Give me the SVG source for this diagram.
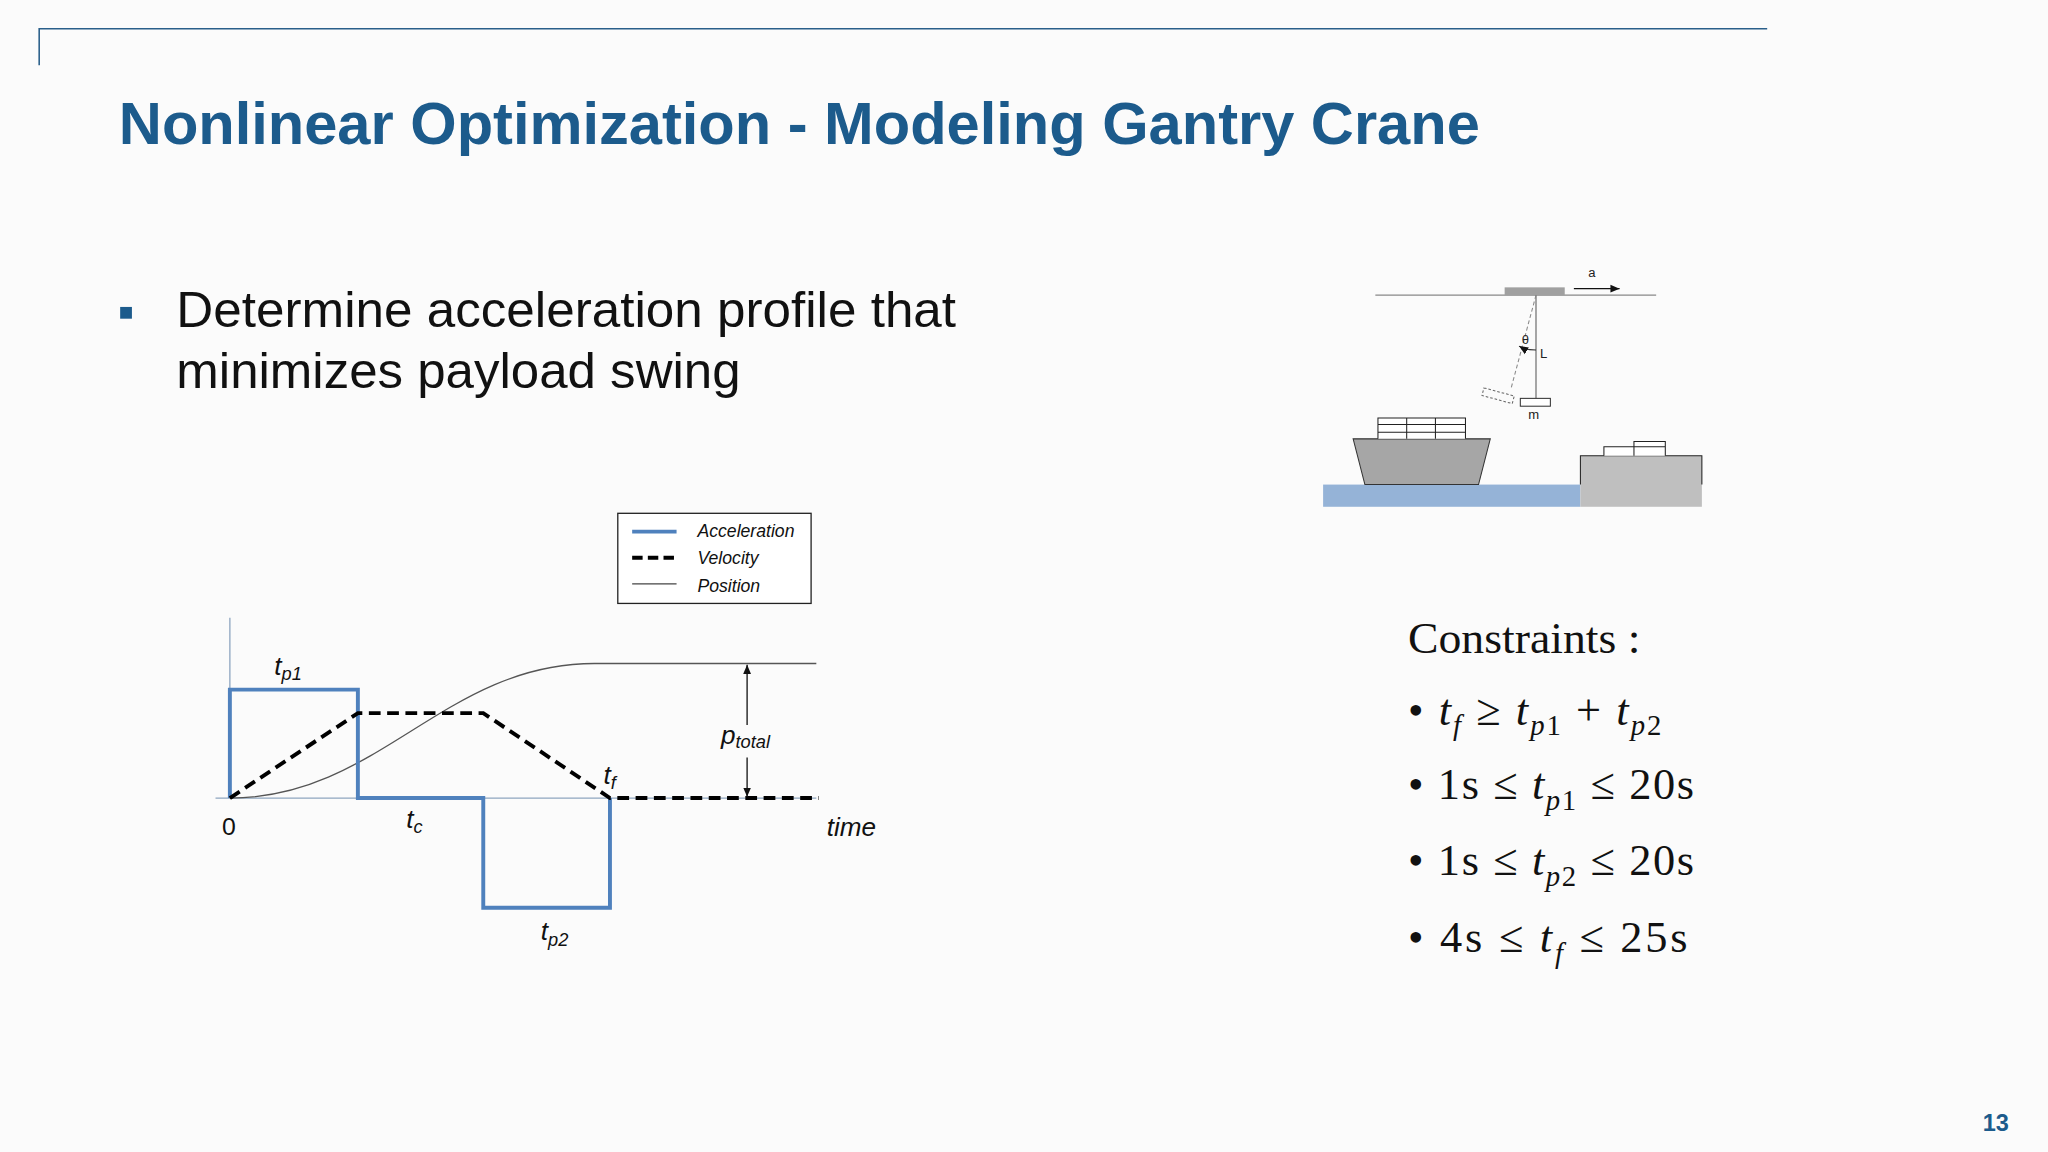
<svg xmlns="http://www.w3.org/2000/svg" width="2048" height="1152" viewBox="0 0 2048 1152">
<style>
.ti{font-family:"Liberation Sans",Arial,sans-serif;font-weight:bold;fill:#1c5b8c}
.bt{font-family:"Liberation Sans",Arial,sans-serif;fill:#111;font-size:38px}
.ch{font-family:"Liberation Sans",Arial,sans-serif;font-style:italic;fill:#111}
.cs{font-family:"Liberation Serif","Times New Roman",serif;fill:#111;font-size:34px}
.it{font-style:italic}
.cr{font-family:"Liberation Sans",Arial,sans-serif;font-size:10px;fill:#222}
</style>
<defs>
<marker id="ah" markerWidth="8" markerHeight="8" refX="7" refY="4" orient="auto" markerUnits="userSpaceOnUse"><path d="M0,1 L7,4 L0,7 Z" fill="#111"/></marker>
</defs>
<rect width="2048" height="1152" fill="#fbfbfb"/>
<g transform="scale(1.30612)">
<g id="header">
<path d="M30,50 V22 H1353" fill="none" stroke="#2a5f8a" stroke-width="1.2"/>
<text class="ti" x="91" y="110" font-size="45" textLength="1042" lengthAdjust="spacingAndGlyphs">Nonlinear Optimization - Modeling Gantry Crane</text>
<text class="ti" x="1518" y="866" font-size="18">13</text>
</g>
<g id="bullet">
<rect x="92" y="235" width="9" height="9" fill="#1c5b8c"/>
<text class="bt" x="135" y="250" textLength="597" lengthAdjust="spacingAndGlyphs">Determine acceleration profile that</text>
<text class="bt" x="135" y="297" textLength="432" lengthAdjust="spacingAndGlyphs">minimizes payload swing</text>
</g>
<g id="chart">
<path d="M176,473 V611 M165,611 H625" stroke="#8fa6c0" stroke-width="1" fill="none"/>
<path d="M176,611 C290,611 340,508 455,508 H625" stroke="#555" stroke-width="1" fill="none"/>
<path d="M176,611 V528 H274 V611 H370 V695 H467 V611" stroke="#4f81bd" stroke-width="3" fill="none"/>
<path d="M176,611 L274,546 H370 L467,611 H627" stroke="#000" stroke-width="3" stroke-dasharray="9,5" fill="none"/>
<line x1="572" y1="555" x2="572" y2="509" stroke="#111" stroke-width="1" marker-end="url(#ah)"/>
<line x1="572" y1="580" x2="572" y2="610" stroke="#111" stroke-width="1" marker-end="url(#ah)"/>
<text class="ch" x="210" y="517" font-size="20">t<tspan font-size="14" dy="4">p1</tspan></text>
<text class="ch" x="311" y="634" font-size="20">t<tspan font-size="14" dy="4">c</tspan></text>
<text class="ch" x="414" y="720" font-size="20">t<tspan font-size="14" dy="4">p2</tspan></text>
<text class="ch" x="462" y="600" font-size="20">t<tspan font-size="14" dy="4">f</tspan></text>
<text class="ch" x="552" y="570" font-size="20">p<tspan font-size="14" dy="3">total</tspan></text>
<text x="170" y="639" font-family="Liberation Sans,Arial,sans-serif" font-size="19" fill="#111">0</text>
<text class="ch" x="633" y="640" font-size="20">time</text>
<rect x="473" y="393" width="148" height="69" fill="#fff" stroke="#222" stroke-width="1"/>
<line x1="484" y1="407" x2="518" y2="407" stroke="#4f81bd" stroke-width="3"/>
<line x1="484" y1="427" x2="518" y2="427" stroke="#000" stroke-width="3" stroke-dasharray="8,4"/>
<line x1="484" y1="447" x2="518" y2="447" stroke="#444" stroke-width="1"/>
<text class="ch" x="534" y="411" font-size="13.5">Acceleration</text>
<text class="ch" x="534" y="432" font-size="13.5">Velocity</text>
<text class="ch" x="534" y="453" font-size="13.5">Position</text>
</g>
<g id="crane">
<line x1="1053" y1="226" x2="1268" y2="226" stroke="#888" stroke-width="1"/>
<rect x="1152" y="220" width="46" height="6" fill="#a0a0a0"/>
<line x1="1205" y1="221" x2="1240" y2="221" stroke="#111" stroke-width="1" marker-end="url(#ah)"/>
<text class="cr" x="1216" y="212">a</text>
<line x1="1176" y1="226" x2="1176" y2="305" stroke="#777" stroke-width="1"/>
<rect x="1164" y="305" width="23" height="6" fill="#fff" stroke="#333" stroke-width="0.8"/>
<text class="cr" x="1170" y="321">m</text>
<line x1="1176" y1="226" x2="1157" y2="297" stroke="#888" stroke-width="0.8" stroke-dasharray="3,2"/>
<rect x="1135" y="300" width="24" height="6" fill="none" stroke="#666" stroke-width="0.8" stroke-dasharray="2,1.5" transform="rotate(15 1147 303)"/>
<text class="cr" x="1165" y="263">θ</text>
<text class="cr" x="1179" y="274">L</text>
<path d="M1176,268 Q1168,268 1163,265" fill="none" stroke="#333" stroke-width="0.8" marker-end="url(#ah)"/>
<rect x="1013" y="371" width="197" height="17" fill="#95b3d7"/>
<rect x="1210" y="349" width="93" height="39" fill="#bfbfbf"/>
<path d="M1210,371 V349 H1303 V371" fill="none" stroke="#222" stroke-width="0.8"/>
<polygon points="1036,336 1141,336 1132,371 1045,371" fill="#a6a6a6" stroke="#333" stroke-width="0.8"/>
<path d="M1055,336 V320 H1122 V336 M1055,325 H1122 M1055,331 H1122 M1077,320 V336 M1099,320 V336" fill="#fff" stroke="#222" stroke-width="0.8"/>
<path d="M1228,349 V342 H1275 V349 M1251,342 V338 H1275 V342 M1251,342 V349" fill="#fff" stroke="#222" stroke-width="0.8"/>
</g>
<g id="constraints">
<text class="cs" x="1078" y="500" textLength="178" lengthAdjust="spacingAndGlyphs">Constraints :</text>
<text class="cs" x="1078" y="555" textLength="194" lengthAdjust="spacing">• <tspan class="it">t</tspan><tspan class="it" font-size="22" dy="8">f</tspan><tspan dy="-8"> ≥ </tspan><tspan class="it">t</tspan><tspan class="it" font-size="22" dy="8">p</tspan><tspan font-size="22">1</tspan><tspan dy="-8"> + </tspan><tspan class="it">t</tspan><tspan class="it" font-size="22" dy="8">p</tspan><tspan font-size="22">2</tspan></text>
<text class="cs" x="1078" y="612" textLength="219" lengthAdjust="spacing">• 1s ≤ <tspan class="it">t</tspan><tspan class="it" font-size="22" dy="8">p</tspan><tspan font-size="22">1</tspan><tspan dy="-8"> ≤ 20s</tspan></text>
<text class="cs" x="1078" y="670" textLength="219" lengthAdjust="spacing">• 1s ≤ <tspan class="it">t</tspan><tspan class="it" font-size="22" dy="8">p</tspan><tspan font-size="22">2</tspan><tspan dy="-8"> ≤ 20s</tspan></text>
<text class="cs" x="1078" y="729" textLength="214" lengthAdjust="spacing">• 4s ≤ <tspan class="it">t</tspan><tspan class="it" font-size="22" dy="8">f</tspan><tspan dy="-8"> ≤ 25s</tspan></text>
</g>
</g>
</svg>
